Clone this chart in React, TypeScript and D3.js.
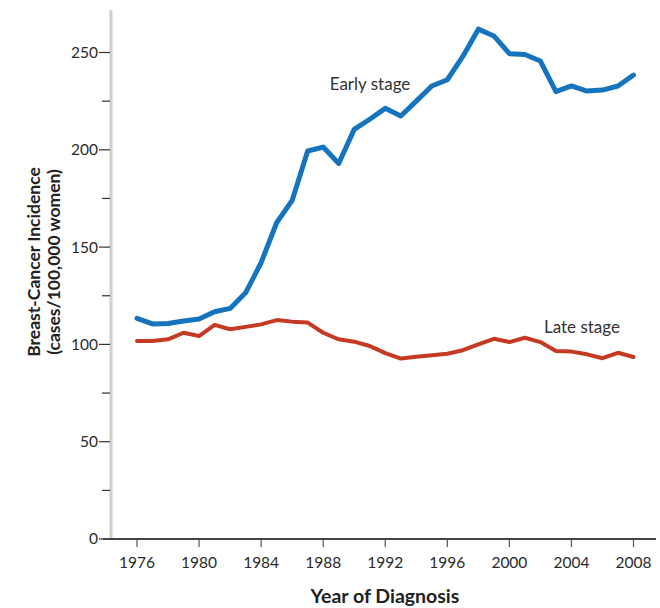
import React, { useRef, useEffect } from "react";
import * as d3 from "d3";

const years = d3.range(1976, 2009);

const earlyStage = [
  113.4, 110.5, 110.7, 112, 113, 116.8, 118.5, 126.5, 142, 162.5, 174, 199.4,
  201.4, 193, 210.5, 215.7, 221.3, 217.4, 225, 232.8, 236, 248, 262, 258.5,
  249.4, 249, 245.6, 229.9, 232.8, 230.2, 230.7, 232.8, 238.4,
];

const lateStage = [
  101.7, 101.7, 102.6, 106, 104.3, 110, 107.8, 109, 110.3, 112.5, 111.7, 111.2,
  106, 102.6, 101.4, 99.2, 95.5, 92.7, 93.7, 94.4, 95.2, 97, 100, 102.9, 101.2,
  103.4, 101.2, 96.6, 96.3, 94.9, 92.9, 95.7, 93.5,
];

const yearTicks = [1976, 1980, 1984, 1988, 1992, 1996, 2000, 2004, 2008];
const majorTicks = [0, 50, 100, 150, 200, 250];
const minorTicks = [25, 75, 125, 175, 225];

const width = 660;
const height = 608;
const font = "Lato, 'Open Sans', sans-serif";

const App: React.FC = () => {
  const svgRef = useRef<SVGSVGElement | null>(null);

  useEffect(() => {
    if (!svgRef.current) return;
    const svg = d3.select(svgRef.current);
    svg.selectAll("*").remove();

    const x = d3.scaleLinear().domain([1976, 2008]).range([137, 633.5]);
    const y = d3.scaleLinear().domain([0, 250]).range([539, 52.5]);

    // y axis: light gray bar
    svg
      .append("line")
      .attr("x1", 111)
      .attr("x2", 111)
      .attr("y1", 10)
      .attr("y2", 539)
      .attr("stroke", "#cfcfcf")
      .attr("stroke-width", 3);

    svg
      .append("g")
      .selectAll("line")
      .data(majorTicks)
      .join("line")
      .attr("x1", 99)
      .attr("x2", 110)
      .attr("y1", (d) => y(d))
      .attr("y2", (d) => y(d))
      .attr("stroke", "#333")
      .attr("stroke-width", 1.2);

    svg
      .append("g")
      .selectAll("line")
      .data(minorTicks)
      .join("line")
      .attr("x1", 102)
      .attr("x2", 110)
      .attr("y1", (d) => y(d))
      .attr("y2", (d) => y(d))
      .attr("stroke", "#333")
      .attr("stroke-width", 1.2);

    svg
      .append("g")
      .selectAll("text")
      .data(majorTicks)
      .join("text")
      .attr("x", 98)
      .attr("y", (d) => y(d))
      .attr("dy", "0.35em")
      .attr("text-anchor", "end")
      .attr("font-family", font)
      .attr("font-size", 15.5)
      .attr("fill", "#2a2a2a")
      .text((d) => d);

    // x axis
    svg
      .append("line")
      .attr("x1", 103)
      .attr("x2", 656)
      .attr("y1", 539)
      .attr("y2", 539)
      .attr("stroke", "#444")
      .attr("stroke-width", 1.8);

    svg
      .append("g")
      .selectAll("line")
      .data(yearTicks)
      .join("line")
      .attr("x1", (d) => x(d))
      .attr("x2", (d) => x(d))
      .attr("y1", 539)
      .attr("y2", 547)
      .attr("stroke", "#555")
      .attr("stroke-width", 1.2);

    svg
      .append("g")
      .selectAll("text")
      .data(yearTicks)
      .join("text")
      .attr("x", (d) => x(d))
      .attr("y", 568)
      .attr("text-anchor", "middle")
      .attr("font-family", font)
      .attr("font-size", 15.5)
      .attr("fill", "#2a2a2a")
      .text((d) => d);

    const line = d3
      .line<number>()
      .x((_, i) => x(years[i]))
      .y((d) => y(d));

    svg
      .append("path")
      .datum(lateStage)
      .attr("fill", "none")
      .attr("stroke", "#c63a23")
      .attr("stroke-width", 4)
      .attr("stroke-linejoin", "round")
      .attr("stroke-linecap", "round")
      .attr("d", line);

    svg
      .append("path")
      .datum(earlyStage)
      .attr("fill", "none")
      .attr("stroke", "#1574bd")
      .attr("stroke-width", 5)
      .attr("stroke-linejoin", "round")
      .attr("stroke-linecap", "round")
      .attr("d", line);

    // series labels
    svg
      .append("text")
      .attr("x", 370)
      .attr("y", 90)
      .attr("text-anchor", "middle")
      .attr("font-family", font)
      .attr("font-size", 17)
      .attr("fill", "#333")
      .text("Early stage");

    svg
      .append("text")
      .attr("x", 582)
      .attr("y", 333)
      .attr("text-anchor", "middle")
      .attr("font-family", font)
      .attr("font-size", 17)
      .attr("fill", "#333")
      .text("Late stage");

    // axis titles
    svg
      .append("text")
      .attr("x", 385)
      .attr("y", 603)
      .attr("text-anchor", "middle")
      .attr("font-family", font)
      .attr("font-weight", "bold")
      .attr("font-size", 19.5)
      .attr("fill", "#222")
      .text("Year of Diagnosis");

    const yTitle = svg
      .append("text")
      .attr("transform", "translate(40,262) rotate(-90)")
      .attr("text-anchor", "middle")
      .attr("font-family", font)
      .attr("font-weight", "bold")
      .attr("font-size", 17.5)
      .attr("fill", "#222");
    yTitle.append("tspan").attr("x", 0).attr("y", 0).text("Breast-Cancer Incidence");
    yTitle.append("tspan").attr("x", 0).attr("y", 20).text("(cases/100,000 women)");
  }, []);

  return (
    <svg
      ref={svgRef}
      width={width}
      height={height}
      style={{ position: "absolute", left: 0, top: 0, background: "#fff" }}
    />
  );
};

export default App;
